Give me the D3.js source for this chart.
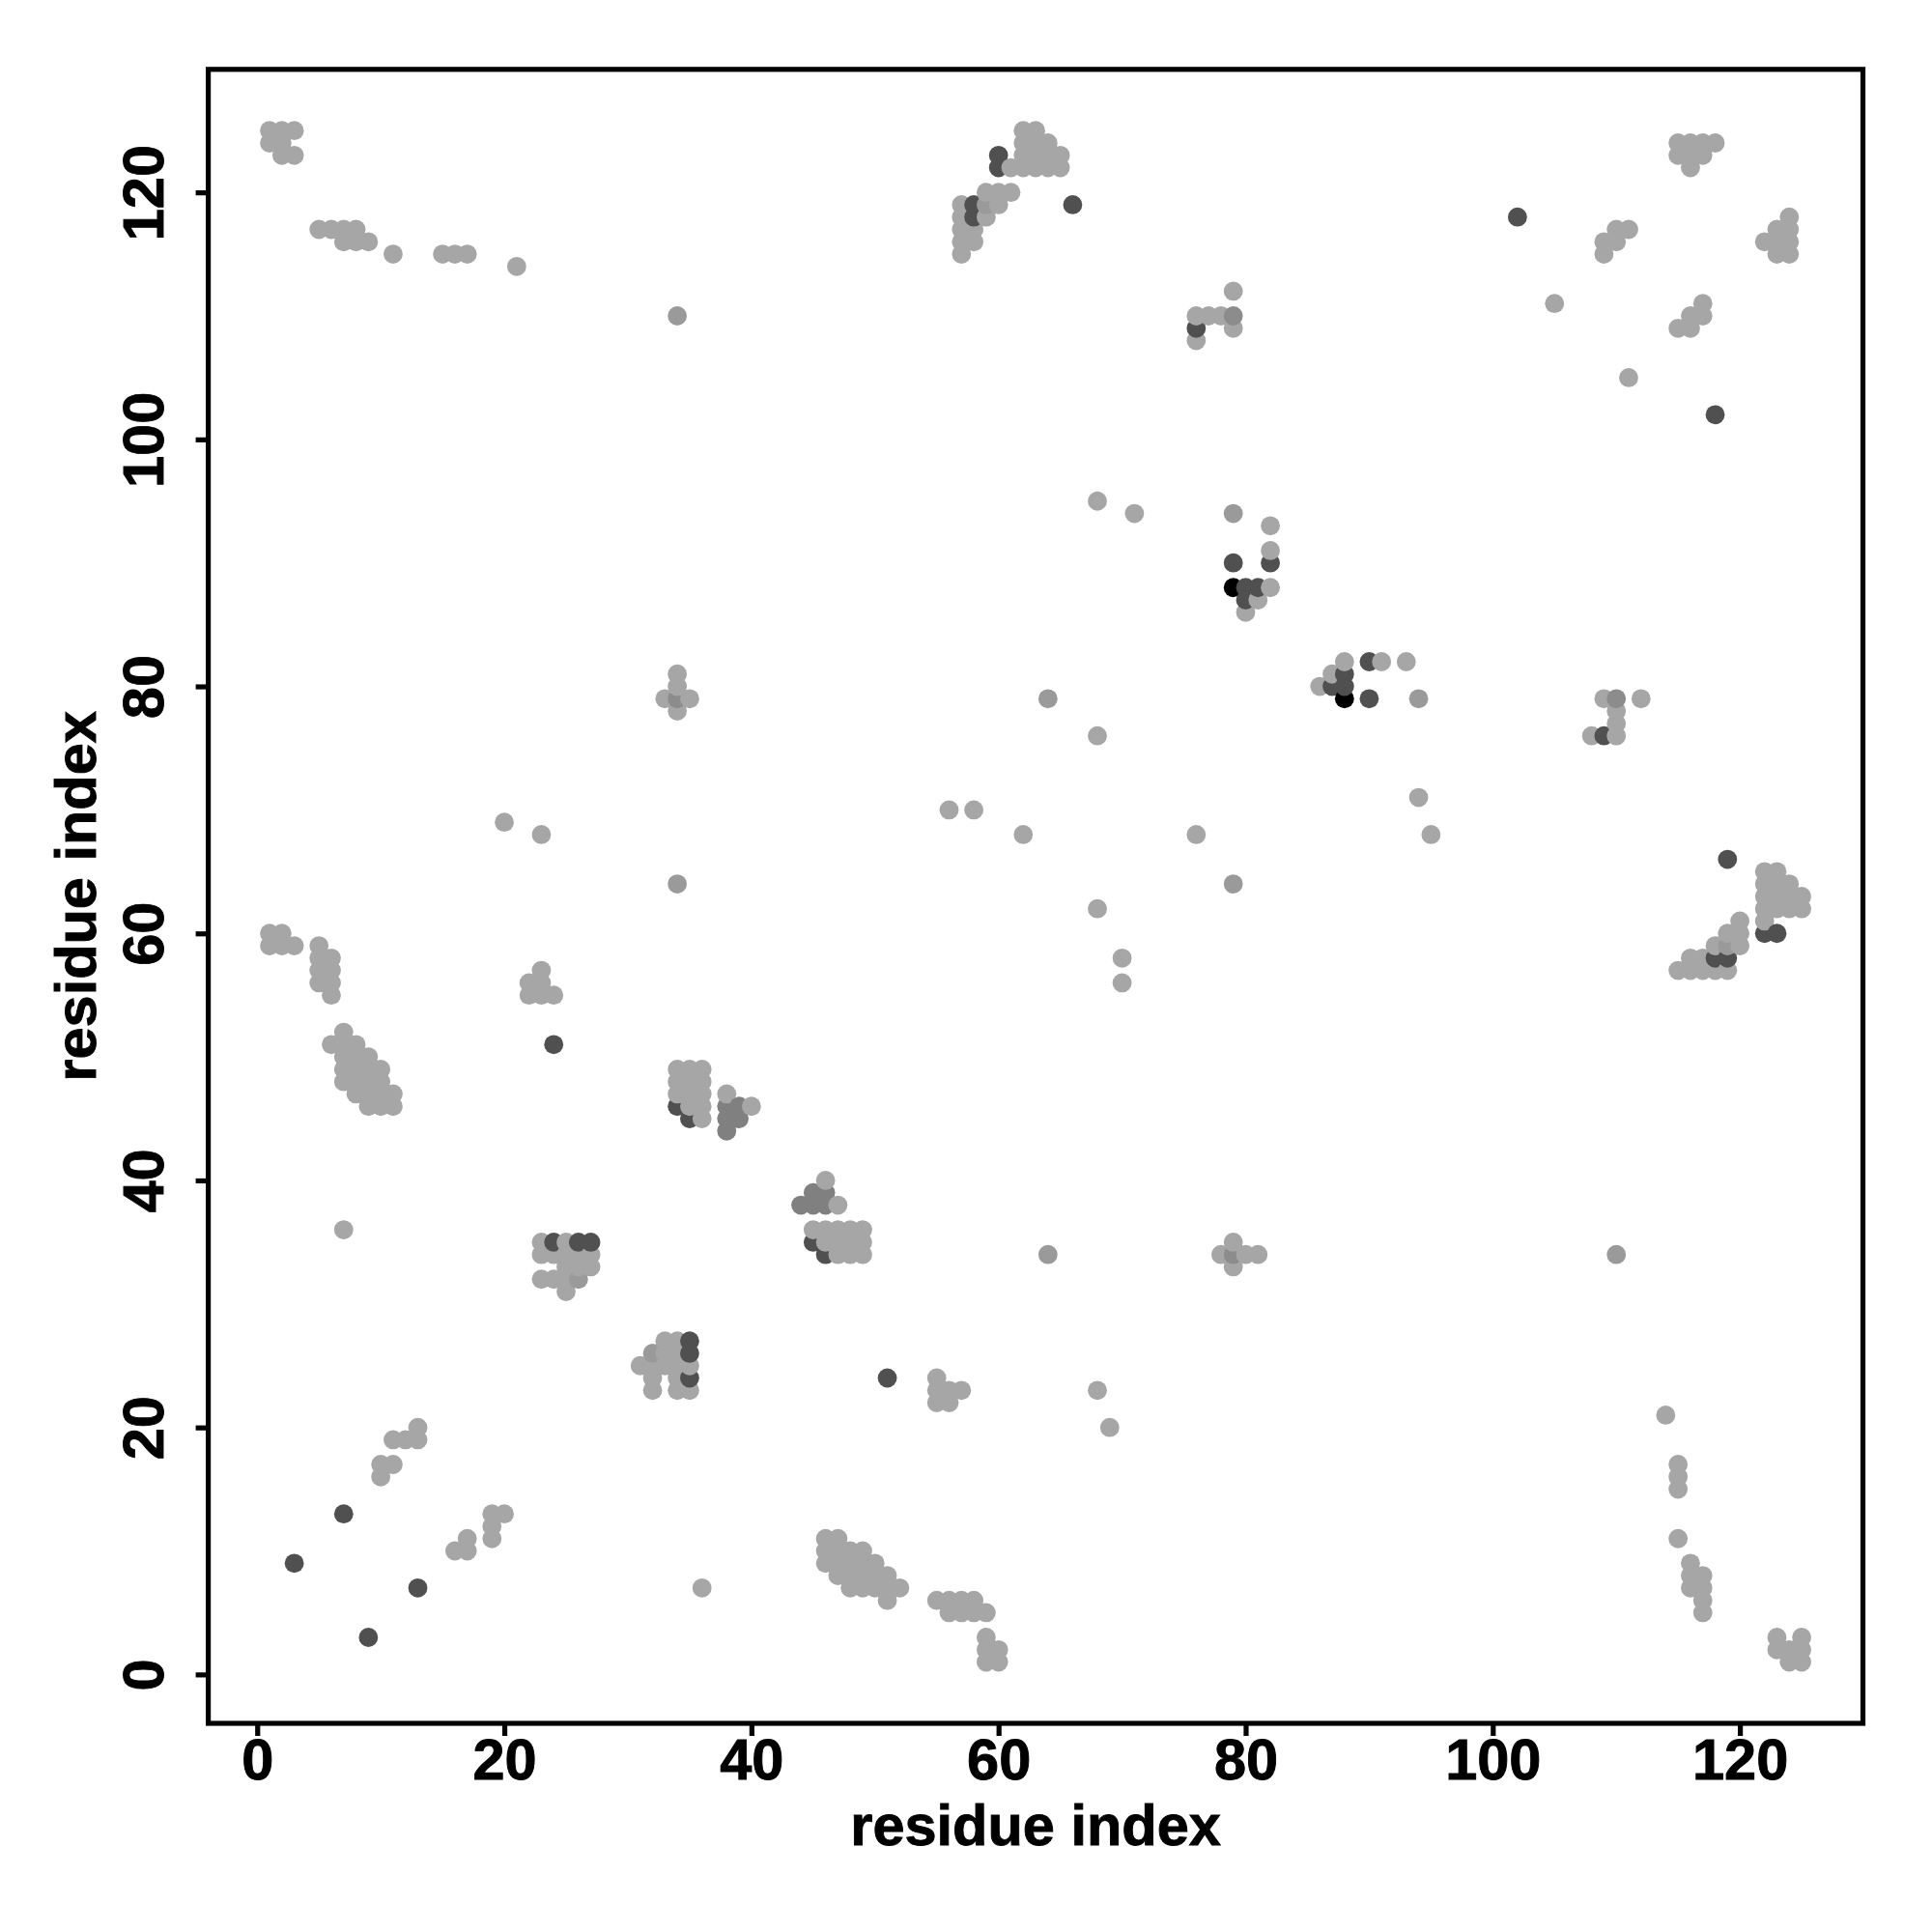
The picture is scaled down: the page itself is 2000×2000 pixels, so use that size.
<!DOCTYPE html>
<html><head><meta charset="utf-8">
<script src="https://cdn.jsdelivr.net/npm/d3@7"></script>
<style>html,body{margin:0;background:#fff}svg{display:block}</style></head>
<body><div id="chart"></div>
<script>
const xTicks=[0,20,40,60,80,100,120], yTicks=[0,20,40,60,80,100,120];
const xTitle="residue index", yTitle="residue index";
// contacts [i,j] with i<j; each is plotted on both sides of the diagonal
const lightContacts=[
[1,59],[1,60],[1,124],[1,125],[2,59],[2,60],[2,123],[2,124],[2,125],[3,59],[3,123],[3,125],
[5,56],[5,57],[5,58],[5,59],[5,117],[6,51],[6,55],[6,56],[6,57],[6,58],[6,117],
[7,36],[7,48],[7,49],[7,50],[7,51],[7,52],[7,116],[7,117],
[8,47],[8,48],[8,49],[8,50],[8,51],[8,116],[8,117],
[9,46],[9,47],[9,48],[9,49],[9,50],[9,116],
[10,16],[10,17],[10,46],[10,47],[10,48],[10,49],
[11,17],[11,19],[11,46],[11,47],[11,115],[12,19],[13,19],[13,20],
[15,115],[16,115],[17,115],[20,69],[21,114],
[22,55],[22,56],[23,32],[23,34],[23,35],[23,55],[23,56],[23,57],[23,68],[24,32],[24,34],[24,55],
[25,31],[25,32],[25,33],[25,34],[25,35],[26,33],[26,34],[27,33],[27,34],
[33,79],[34,47],[34,48],[34,49],[34,78],[34,80],[34,81],
[35,46],[35,47],[35,48],[35,49],[35,79],[36,45],[36,46],[36,47],[36,48],[36,49],
[38,47],[40,46],
[56,70],[57,115],[57,116],[57,117],[57,118],[57,119],[58,70],[58,116],[58,117],
[59,118],[59,120],[60,119],[60,120],[61,120],[61,122],
[62,68],[62,122],[62,123],[62,124],[62,125],[63,122],[63,123],[63,124],[63,125],
[64,122],[64,123],[64,124],[65,122],[65,123],
[68,76],[68,95],[71,94],[76,108],[76,110],[77,110],[78,110],[79,109],[79,112],
[80,86],[81,87],[82,88],[82,91],[82,93],[105,111],
[109,115],[109,116],[110,116],[110,117],[111,117],
[115,123],[115,124],[116,122],[116,123],[116,124],[117,123],[117,124],[118,124]
];
const softContacts=[[26,32],[34,64],[34,110],[59,119],[64,79],[79,94]];
const midLightContacts=[[34,79],[79,110]];
const midContacts=[[38,44],[38,45],[38,46],[39,45],[39,46]];
const darkContacts=[
[3,9],[7,13],[24,35],[24,51],[26,35],[27,35],[34,46],[35,45],
[58,118],[58,119],[60,122],[60,123],[66,119],[76,109],[79,90],[80,87],[80,88],[81,88],[82,90],[102,118]
];
const blackContacts=[[79,88]];

const levels=[
 {pairs:lightContacts,grey:166},
 {pairs:softContacts,grey:154},
 {pairs:midLightContacts,grey:140},
 {pairs:midContacts,grey:128},
 {pairs:darkContacts,grey:80},
 {pairs:blackContacts,grey:0}
];
const points=levels.flatMap(l=>l.pairs.flatMap(([a,b])=>[
  {x:a,y:b,grey:l.grey},{x:b,y:a,grey:l.grey}
])).sort((p,q)=>d3.ascending(p.x,q.x)||d3.ascending(p.y,q.y));

const W=2000,H=2000,L=215.6,R=1928.5,T=71.8,B=1784;
const x=d3.scaleLinear().domain([-3.96,129.96]).range([L,R]);
const y=d3.scaleLinear().domain([-3.96,129.96]).range([B,T]);
const grey=d3.scaleLinear().domain([0,255]).range(["#000000","#ffffff"]);
const FONT='"Liberation Sans",Arial,sans-serif';
const FS=59.5, HEAVY=0.9;
const svg=d3.select("#chart").append("svg").attr("width",W).attr("height",H);
svg.append("rect").attr("width",W).attr("height",H).attr("fill","#fff");
svg.append("g").selectAll("circle").data(points).join("circle")
  .attr("cx",d=>x(d.x)).attr("cy",d=>y(d.y)).attr("r",9.9).attr("fill",d=>grey(d.grey));
svg.append("rect").attr("x",L).attr("y",T).attr("width",R-L).attr("height",B-T)
  .attr("fill","none").attr("stroke","#000").attr("stroke-width",5.2);
const gx=svg.append("g").attr("transform",`translate(0,${B})`)
  .call(d3.axisBottom(x).tickValues(xTicks).tickSize(13));
const gy=svg.append("g").attr("transform",`translate(${L},0)`)
  .call(d3.axisLeft(y).tickValues(yTicks).tickSize(13));
[gx,gy].forEach(g=>{
  g.select(".domain").remove();
  g.selectAll("line").attr("stroke","#000").attr("stroke-width",5.2);
  g.selectAll("text").attr("fill","#000").attr("stroke","#000").attr("stroke-width",HEAVY)
    .attr("font-family",FONT).attr("font-weight","bold").attr("font-size",FS);
});
gx.selectAll("text").attr("y",58).attr("dy",0).attr("text-anchor","middle");
gy.selectAll("text").attr("x",0).attr("dy",0).attr("y",0).attr("text-anchor","middle")
  .attr("transform","translate(-46.5,0) rotate(-90)");
svg.append("text").attr("x",(L+R)/2).attr("y",1910).attr("text-anchor","middle")
  .attr("font-family",FONT).attr("font-weight","bold").attr("font-size",FS)
  .attr("stroke","#000").attr("stroke-width",HEAVY).text(xTitle);
svg.append("text").attr("transform",`translate(98.5,${(T+B)/2}) rotate(-90)`).attr("text-anchor","middle")
  .attr("font-family",FONT).attr("font-weight","bold").attr("font-size",FS)
  .attr("stroke","#000").attr("stroke-width",HEAVY).text(yTitle);
</script></body></html>
